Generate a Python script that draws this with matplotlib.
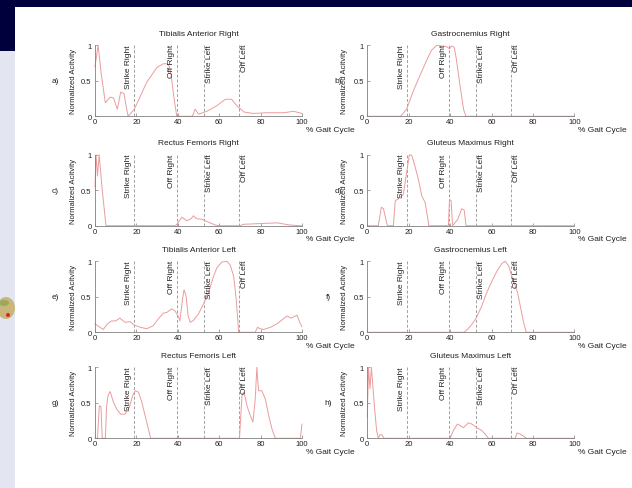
import matplotlib
matplotlib.use('Agg')
import matplotlib.pyplot as plt
from matplotlib.patches import Rectangle, Ellipse

plt.rcParams['font.family'] = ['Liberation Sans', 'DejaVu Sans']

# gait events, % of gait cycle
event_pos = [19, 39.5, 52.5, 69.5]
event_names = ['Strike Right', 'Off Right', 'Strike Left', 'Off Left']

titles = ['Tibialis Anterior Right', 'Gastrocnemius Right',
          'Rectus Femoris Right', 'Gluteus Maximus Right',
          'Tibialis Anterior Left', 'Gastrocnemius Left',
          'Rectus Femoris Left', 'Gluteus Maximus Left']
tags = ['a)', 'b)', 'c)', 'd)', 'e)', 'f)', 'g)', 'h)']
xticks = [0, 20, 40, 60, 80, 100]
yticks = [0, 0.5, 1]
yticklabels = ['0', '0.5', '1']

# normalized EMG envelopes
ta_r_x = [0, 1.5, 3, 5, 7.3, 8.9, 10.8, 12.4, 14, 15, 16, 19, 25, 30, 33, 34.7, 36, 37, 38.2, 39.5,
          47, 48.4, 50, 54, 58.9, 63, 66, 68.5, 72, 76.6, 83, 91, 96, 100]
ta_r_y = [0.7, 1.0, 0.6, 0.19, 0.27, 0.26, 0.1, 0.34, 0.32, 0.15, 0.0, 0.1, 0.48, 0.69, 0.74, 0.74, 0.7, 0.53, 0.25, 0.0,
          0.0, 0.1, 0.03, 0.07, 0.15, 0.24, 0.24, 0.15, 0.06, 0.04, 0.05, 0.05, 0.07, 0.04]

ga_r_x = [0, 16, 19, 22, 25.5, 28.7, 31, 33.5, 36, 38.4, 39.7, 40.8, 42, 43, 44.8, 46.5, 47.6, 100]
ga_r_y = [0, 0, 0.1, 0.34, 0.58, 0.79, 0.93, 1.0, 0.99, 0.98, 0.95, 0.99, 0.97, 0.81, 0.43, 0.1, 0, 0]

rf_r_x = [0, 0.5, 1.2, 2, 3.5, 5.3, 39, 42, 44.4, 46.5, 47.6, 48.9, 51.6, 54.8, 58, 59.7,
          70, 71.8, 79.8, 88, 94, 99, 100]
rf_r_y = [0.55, 1.0, 0.7, 1.0, 0.5, 0, 0, 0.12, 0.07, 0.1, 0.14, 0.1, 0.09, 0.05, 0.01, 0,
          0, 0.02, 0.03, 0.04, 0.01, 0, 0]

gm_r_x = [0, 5.3, 6.8, 7.8, 9.7, 12.6, 13.5, 15, 17.4, 19, 20.3, 21.5, 23, 24.7, 26.3, 27.9, 29, 29.7,
          39.2, 39.7, 40.5, 41.2, 43.7, 45.6, 46.8, 47.7, 100]
gm_r_y = [0, 0, 0.26, 0.24, 0, 0, 0.35, 0.38, 0.44, 0.75, 1.0, 0.99, 0.84, 0.65, 0.42, 0.33, 0.14, 0,
          0, 0.37, 0.35, 0, 0.09, 0.24, 0.22, 0, 0]

ta_l_x = [0, 1.9, 4, 6, 8, 10, 12, 14.5, 17, 19, 22, 25, 28, 30.6, 33, 34.7, 37, 38.7, 40.3, 41,
          42.3, 43, 44, 45, 46, 47.6, 50, 52.4, 54.8, 57.3, 58.9, 61.3, 63.7, 65.3, 67, 68.2, 69.4,
          77.4, 78.5, 79.8, 81.5, 84.7, 88, 91, 92.7, 94.7, 97.6, 99.2, 100]
ta_l_y = [0.12, 0.08, 0.04, 0.12, 0.16, 0.16, 0.2, 0.14, 0.15, 0.1, 0.07, 0.05, 0.09, 0.19, 0.27, 0.28, 0.33, 0.3, 0.22, 0.16,
          0.47, 0.6, 0.51, 0.23, 0.14, 0.17, 0.26, 0.4, 0.56, 0.79, 0.91, 0.99, 1.0, 0.95, 0.79, 0.47, 0,
          0, 0.07, 0.05, 0.04, 0.07, 0.12, 0.19, 0.23, 0.2, 0.24, 0.12, 0.08]

ga_l_x = [0, 46.8, 49.7, 52.4, 55.3, 57.7, 60.2, 62.6, 65, 66.6, 68.2, 69.8, 71.5, 72.6, 73.9, 75.5, 76.8, 100]
ga_l_y = [0, 0, 0.08, 0.19, 0.37, 0.56, 0.72, 0.86, 0.97, 1.0, 0.94, 0.79, 0.65, 0.56, 0.37, 0.14, 0, 0]

rf_l_x = [0, 1.2, 2.1, 2.9, 3.5, 5.0, 5.6, 6.3, 7.3, 8.9, 10.5, 12.4, 14.5, 16.6, 18.2, 19.4, 21, 22.6,
          24.2, 25.8, 26.9, 69.8, 71, 72, 73.4, 75, 76.3, 77.4, 78.2, 79, 80.6, 82.3, 83.9, 85.5, 87.1,
          99.2, 100]
rf_l_y = [0, 0, 0.46, 0.44, 0, 0, 0.45, 0.6, 0.66, 0.51, 0.41, 0.34, 0.34, 0.44, 0.6, 0.67, 0.65, 0.51,
          0.32, 0.13, 0, 0, 0.6, 0.65, 0.46, 0.32, 0.23, 0.55, 1.0, 0.67, 0.67, 0.55, 0.32, 0.13, 0,
          0, 0.2]

gm_l_x = [0, 0.6, 1.3, 2, 3.4, 4.5, 5.3, 6.1, 7.1, 8.1, 40, 41.6, 43.5, 44.8, 46.5, 48.9, 50.5, 52.9,
          55.3, 56.9, 58.5, 71.5, 72.3, 73.9, 75.5, 76.8, 100]
gm_l_y = [0.3, 1.0, 0.7, 1.0, 0.46, 0.11, 0, 0.05, 0.05, 0, 0, 0.11, 0.2, 0.18, 0.15, 0.22, 0.2, 0.15,
          0.11, 0.06, 0, 0, 0.075, 0.06, 0.03, 0, 0]

curves = [(ta_r_x, ta_r_y), (ga_r_x, ga_r_y), (rf_r_x, rf_r_y), (gm_r_x, gm_r_y),
          (ta_l_x, ta_l_y), (ga_l_x, ga_l_y), (rf_l_x, rf_l_y), (gm_l_x, gm_l_y)]

W, H = 632., 489.
col_left = [95, 367.3]
row_bottom = [117.3, 226.7, 333.3, 439.3]
ax_w, ax_h = 207, 71
tag_off = [40, 29, 40, 29, 40, 39, 40, 39]  # px left of the y axis
ylab_off = [21.5, 23]

grey = '#808080'
txt = '#222222'
red = '#eb9c9c'


def px(x, y):
    return x / W, 1 - y / H


fig = plt.figure(figsize=(W / 100, H / 100), dpi=100)
fig.patch.set_facecolor('white')

# slide frame around the chart
fig.add_artist(Rectangle(px(0, 8), 1, 8 / H, transform=fig.transFigure, color='#00003c', lw=0))
fig.add_artist(Rectangle(px(0, 52), 15 / W, 52 / H, transform=fig.transFigure, color='#00003c', lw=0))
fig.add_artist(Rectangle(px(0, H), 15 / W, (H - 52) / H, transform=fig.transFigure, color='#e3e5f1', lw=0))
fig.add_artist(Ellipse(px(6, 309), 18 / W, 22 / H, transform=fig.transFigure, color='#c9b77a', lw=0))
fig.add_artist(Ellipse(px(4, 304), 10 / W, 6 / H, transform=fig.transFigure, color='#9aa860', lw=0))
fig.add_artist(Ellipse(px(8, 316), 4 / W, 4 / H, transform=fig.transFigure, color='#d22a2a', lw=0))

for i in range(8):
    r, c = i // 2, i % 2
    x0, y0 = px(col_left[c], row_bottom[r])
    ax = fig.add_axes([x0, y0, ax_w / W, ax_h / H])
    cx, cy = curves[i]
    ax.plot(cx, cy, color=red, lw=0.7, clip_on=False, zorder=2)
    for k, ev in enumerate(event_pos):
        ax.plot([ev, ev], [0, 1], color='#a0a0a0', lw=0.7, ls=(0, (3, 2)), zorder=1)
        if k < 2:
            ax.text(ev - 1, 1.02, event_names[k], rotation=90, ha='right', va='top',
                    fontsize=6, color=txt)
        else:
            ax.text(ev + 1, 1.02, event_names[k], rotation=90, ha='left', va='top',
                    fontsize=6, color=txt)
    ax.set_xlim(0, 100)
    ax.set_ylim(0, 1)
    ax.set_xticks(xticks)
    ax.set_yticks(yticks)
    ax.set_yticklabels(yticklabels)
    ax.tick_params(direction='in', length=2, width=0.5, colors=grey, labelsize=5.5,
                   labelcolor=txt)
    ax.tick_params(axis='x', pad=1.5)
    ax.tick_params(axis='y', pad=2.5)
    for s in ['top', 'right']:
        ax.spines[s].set_visible(False)
    for s in ['left', 'bottom']:
        ax.spines[s].set_color(grey)
        ax.spines[s].set_linewidth(0.6)
    ax.set_title(titles[i], fontsize=6, color=txt, pad=7.5)
    ax.text(-ylab_off[c] / ax_w, 0.5, 'Normalized Acitvity', rotation=90, ha='center',
            va='center', fontsize=5.5, color=txt, transform=ax.transAxes)
    ax.text(-tag_off[i] / ax_w, 0.5, tags[i], rotation=0, ha='center', va='center', fontsize=6,
            color=txt, transform=ax.transAxes)
    ax.text(1 + 4 / ax_w, -13 / ax_h, '% Gait Cycle', ha='left', va='center', fontsize=6,
            color=txt, transform=ax.transAxes, clip_on=False)
    ax.patch.set_alpha(0)

plt.savefig('out.png', dpi=100)
